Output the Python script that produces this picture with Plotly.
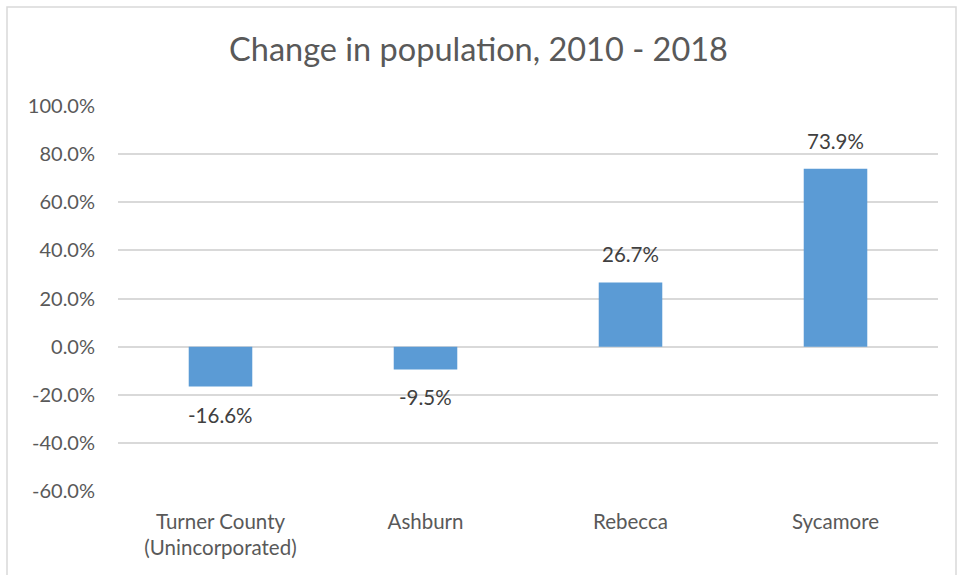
import plotly.graph_objects as go

categories = ["Turner County<br>(Unincorporated)", "Ashburn", "Rebecca", "Sycamore"]
values = [-16.6, -9.5, 26.7, 73.9]
labels = ["-16.6%", "-9.5%", "26.7%", "73.9%"]
tick_vals = [-60, -40, -20, 0, 20, 40, 60, 80, 100]
tick_text = ["-60.0%", "-40.0%", "-20.0%", "0.0%", "20.0%", "40.0%", "60.0%", "80.0%", "100.0%"]

W, H = 957, 575
ml, mr, mt, mb = 118, 19, 106, 84
pw, ph = W - ml - mr, H - mt - mb

def px_x(x):
    return (x - ml) / pw

def px_y(y):
    return (H - mb - y) / ph

font_family = "Lato, 'Open Sans', sans-serif"

fig = go.Figure(
    go.Bar(
        x=categories,
        y=values,
        marker=dict(color="#5B9BD5", line=dict(width=0)),
        width=0.31,
        hoverinfo="skip",
    )
)

annotations = [
    dict(
        x=c,
        y=v,
        xref="x",
        yref="y",
        text=t,
        showarrow=False,
        yshift=28 if v >= 0 else -28,
        yanchor="middle",
        xanchor="center",
        font=dict(size=20.5, color="#404040", family=font_family),
    )
    for c, v, t in zip(categories, values, labels)
]

fig.update_layout(
    width=W,
    height=H,
    margin=dict(l=ml, r=mr, t=mt, b=mb),
    paper_bgcolor="white",
    plot_bgcolor="white",
    showlegend=False,
    annotations=annotations,
    title=dict(
        text="Change in population, 2010 - 2018",
        x=0.5,
        xanchor="center",
        y=1 - 50 / H,
        yanchor="middle",
        font=dict(size=32.5, color="#595959", family=font_family),
    ),
    xaxis=dict(
        showgrid=False,
        showline=False,
        zeroline=False,
        ticks="",
        tickfont=dict(size=20.5, color="#595959", family=font_family),
        ticklabelstandoff=16,
    ),
    yaxis=dict(
        range=[-60, 100],
        tickvals=tick_vals,
        ticktext=tick_text,
        showgrid=True,
        gridcolor="#D9D9D9",
        gridwidth=1.5,
        zeroline=True,
        zerolinecolor="#D9D9D9",
        zerolinewidth=1.5,
        showline=False,
        ticks="",
        tickfont=dict(size=20, color="#595959", family=font_family),
        ticklabelstandoff=22,
    ),
    shapes=[
        dict(
            type="rect",
            xref="paper",
            yref="paper",
            x0=px_x(7),
            x1=px_x(956),
            y0=px_y(585),
            y1=px_y(7),
            line=dict(color="#D9D9D9", width=1.5),
            fillcolor="rgba(0,0,0,0)",
            layer="below",
        )
    ],
)

fig.write_html(
    "out.html",
    config={"displayModeBar": False},
    post_script="document.body.style.margin='0';",
)
